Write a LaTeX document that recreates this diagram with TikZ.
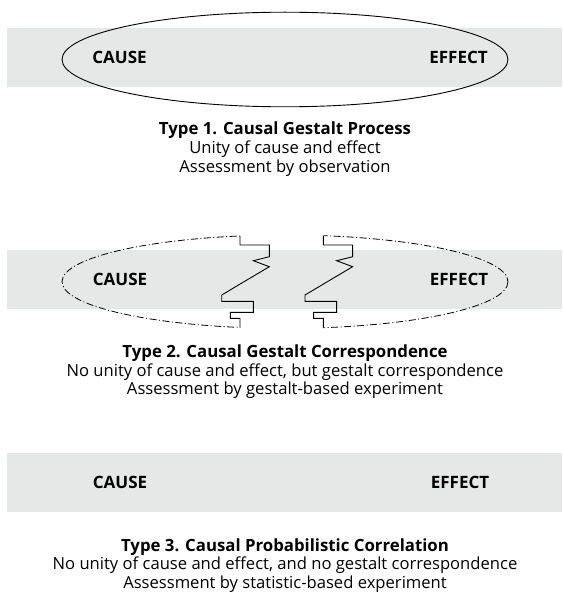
\documentclass[tikz,border=0pt]{standalone}
\usepackage{fontspec}
\setmainfont{Open Sans}
\definecolor{bandgray}{HTML}{E6E7E7}
\begin{document}
\begin{tikzpicture}[x=1pt,y=-1pt,
  band/.style={fill=bandgray,draw=none},
  lbl/.style={font=\fontsize{17}{19}\selectfont\bfseries,anchor=base,inner sep=0pt},
  ttl/.style={font=\fontsize{16.8}{19}\selectfont\bfseries,anchor=base,inner sep=0pt},
  sub/.style={font=\fontsize{16.6}{19}\selectfont,anchor=base,inner sep=0pt},
  outline/.style={draw=black,line width=0.9pt},
  dashdot/.style={draw=black,line width=0.8pt,dash pattern=on 7pt off 2.5pt on 1pt off 2.5pt},
  zig/.style={draw=black,line width=0.9pt,line join=miter}]
\useasboundingbox (0,0) rectangle (562,596);
% ---- Type 1
\fill[band] (7,28) rectangle (562,87);
\draw[outline] (285,59.5) ellipse [x radius=223, y radius=47.3];
\node[lbl] (c1) at (119.5,63.5) {CAUSE};
\node[lbl] (e1) at (458.5,63.5) {EFFECT};
\node[ttl] (t1) at (285,135) {Type 1. Causal Gestalt Process};
\node[sub] (t1a) at (285,153.5) {Unity of cause and effect};
\node[sub] (t1b) at (285,172) {Assessment by observation};
% ---- Type 2
\fill[band] (7,250) rectangle (562,308.5);
\begin{scope}
  \clip (0,200) rectangle (240,340);
  \draw[dashdot] (285,281.7) ellipse [x radius=223, y radius=46.7];
\end{scope}
\begin{scope}
  \clip (323.3,200) rectangle (562,340);
  \draw[dashdot] (285,281.7) ellipse [x radius=223, y radius=46.7];
\end{scope}
\foreach \dx/\nm in {0/L,83.3/R}{
  \draw[zig,xshift=\dx] (240,236) -- (240,245) -- (269.3,245) -- (269.3,256.7)
    -- (253.3,260.7) -- (269.3,266.7) -- (221.7,295) -- (221.7,301.3)
    -- (253.3,301.3) -- (253.3,312.3) -- (230.3,312.3) -- (230.3,318.3)
    -- (240,318.3) -- (240,327.5);
}
\node[lbl] (c2) at (120,285.5) {CAUSE};
\node[lbl] (e2) at (459,285.5) {EFFECT};
\node[ttl] (t2) at (285,357.5) {Type 2. Causal Gestalt Correspondence};
\node[sub] (t2a) at (285,376) {No unity of cause and effect, but gestalt correspondence};
\node[sub] (t2b) at (285,394.5) {Assessment by gestalt-based experiment};
% ---- Type 3
\fill[band] (7,453) rectangle (562,512);
\node[lbl] (c3) at (120,488.5) {CAUSE};
\node[lbl] (e3) at (460,488.5) {EFFECT};
\node[ttl] (t3) at (285,551) {Type 3. Causal Probabilistic Correlation};
\node[sub] (t3a) at (285,569.5) {No unity of cause and effect, and no gestalt correspondence};
\node[sub] (t3b) at (285,588) {Assessment by statistic-based experiment};
\end{tikzpicture}
\end{document}
